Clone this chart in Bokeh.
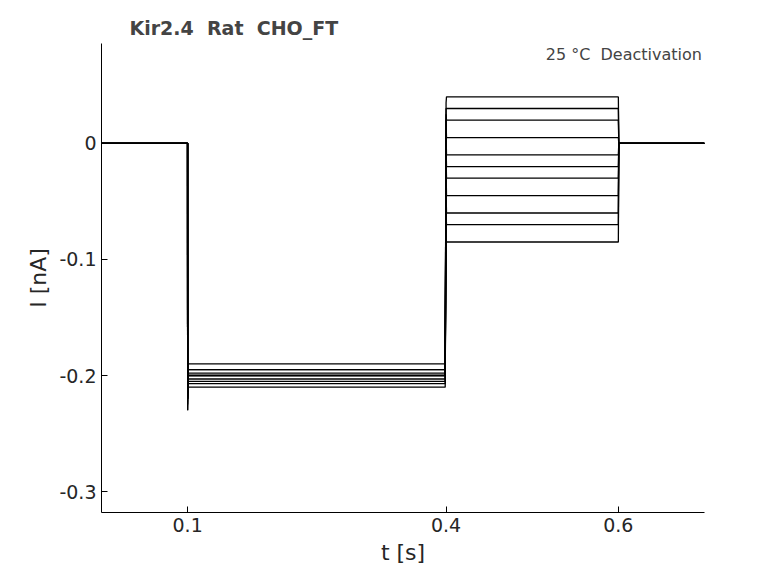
from bokeh.plotting import figure
from bokeh.models import Range1d, FixedTicker, Label
from bokeh.embed import file_html
from bokeh.resources import INLINE

# time breakpoints (s)
t_points = [0.0, 0.0999, 0.1, 0.1005, 0.399, 0.4, 0.4005, 0.6, 0.6005, 0.7]
# per-trace current levels (nA)
hold_level = [0.0]*11
step_level = [-0.195, -0.2, -0.205, -0.19, -0.21, -0.2, -0.198, -0.203, -0.207, -0.195, -0.2]
tail_level = [0.04, 0.03, 0.02, 0.005, -0.01, -0.02, -0.03, -0.045, -0.06, -0.07, -0.085]
onset_spike = [-0.23, -0.22, -0.215, -0.21, -0.225, -0.22, -0.21, -0.22, -0.23, -0.215, -0.22]
tail_spike = [0.035, 0.03, 0.025, 0.02, 0.01, 0.0, -0.01, -0.02, -0.04, -0.06, -0.08]

F = "DejaVu Sans"
p = figure(width=770, height=575, output_backend="svg", toolbar_location=None,
           x_range=Range1d(0.0, 0.7), y_range=Range1d(-0.318, 0.086),
           min_border_left=101, min_border_right=66, min_border_top=43, min_border_bottom=63)
xs, ys = [], []
for i in range(len(tail_level)):
    xs.append(t_points)
    ys.append([hold_level[i], hold_level[i], onset_spike[i], step_level[i], step_level[i],
               tail_spike[i], tail_level[i], tail_level[i], 0.0, 0.0])
p.multi_line(xs, ys, line_color="black", line_width=1.3)

p.title.text = "Kir2.4\u00a0\u00a0Rat\u00a0\u00a0CHO_FT"
p.title.text_font = F
p.title.text_font_size = "19px"
p.title.text_font_style = "bold"
p.title.offset = 28
p.grid.visible = False
p.outline_line_color = None
p.background_fill_color = "white"
for ax in (p.xaxis[0], p.yaxis[0]):
    ax.major_tick_in = 6
    ax.major_tick_out = 0
    ax.minor_tick_line_color = None
    ax.major_label_text_font = F
    ax.axis_label_text_font = F
    ax.major_label_text_font_size = "19px"
    ax.axis_label_text_font_size = "22px"
    ax.axis_label_text_font_style = "normal"
    ax.major_label_text_color = "#262626"
    ax.axis_label_text_color = "#262626"
p.xaxis.ticker = FixedTicker(ticks=[0.1, 0.4, 0.6])
p.yaxis.ticker = FixedTicker(ticks=[0, -0.1, -0.2, -0.3])
p.xaxis.major_label_overrides = {0.1: "0.1", 0.4: "0.4", 0.6: "0.6"}
p.yaxis.major_label_overrides = {0: "0", -0.1: "-0.1", -0.2: "-0.2", -0.3: "-0.3"}
p.xaxis.axis_label = "t [s]"
p.yaxis.axis_label = "I [nA]"
p.yaxis.major_label_orientation = "horizontal"

p.add_layout(Label(x=0.697, y=0.085, text="25 °C\u00a0\u00a0Deactivation", text_align="right",
                   text_baseline="top", text_font=F, text_font_size="16px"))
p.add_layout(Label(x=708, y=270, x_units="screen", y_units="screen",
                   text="BBP Channelpedia ID 23577 rep 2", angle=1.5708,
                   text_align="center", text_baseline="top", text_font=F, text_font_size="13px"))

open("out.html", "w").write(file_html(p, INLINE))
